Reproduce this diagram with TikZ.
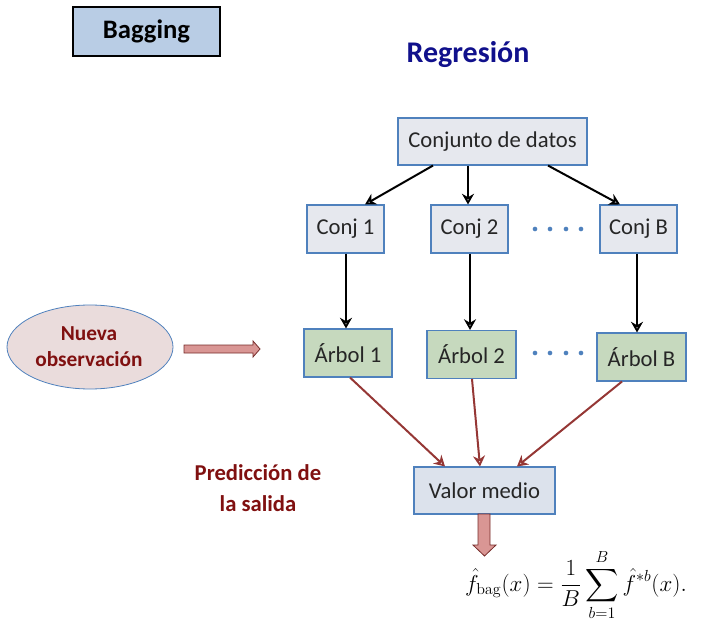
\documentclass[tikz,border=0pt]{standalone}
\usepackage{amsmath}
\usepackage[no-math]{fontspec}
\setmainfont{Carlito}
\usetikzlibrary{arrows.meta,shapes.geometric}
\definecolor{boxblue}{RGB}{79,129,189}
\definecolor{bagfill}{RGB}{185,205,229}
\definecolor{datfill}{RGB}{230,232,238}
\definecolor{treefill}{RGB}{198,217,190}
\definecolor{valfill}{RGB}{220,226,236}
\definecolor{darkred}{RGB}{128,16,16}
\definecolor{navy}{RGB}{16,16,140}
\definecolor{arrred}{RGB}{149,55,53}
\definecolor{blkfill}{RGB}{217,150,148}
\definecolor{ellfill}{RGB}{234,220,220}
\tikzset{
  box/.style={draw=boxblue, line width=0.8pt, fill=datfill, inner sep=0pt,
    font=\fontsize{17}{20}\selectfont, text=black!85},
  tree/.style={box, fill=treefill},
  blk/.style={->, >={Stealth[open, length=8pt, width=9pt]}, line width=1.5pt, black},
  red/.style={->, >={Stealth[open, length=8pt, width=9pt]}, line width=1.5pt, arrred},
  bigarrow/.style={draw=arrred!80!black, line width=0.6pt, fill=blkfill},
  dotsty/.style={circle, fill=boxblue, inner sep=0pt, minimum size=3.5pt}
}
\begin{document}
\begin{tikzpicture}[x=0.75pt, y=-0.75pt]
\useasboundingbox (0,0) rectangle (713,623);
% title boxes
\node[draw=black, line width=0.8pt, fill=bagfill, minimum width=110.25pt, minimum height=36.75pt,
  font=\fontsize{20}{24}\selectfont\bfseries] (bag) at (146.5,31.5) {Bagging};
\node[font=\fontsize{22.5}{27}\selectfont\bfseries, text=navy] (reg) at (468,55) {Regresión};
% data
\node[box, minimum width=141.75pt, minimum height=35.25pt] (dat) at (492.5,141.5) {Conjunto de datos};
\node[box, minimum width=57.75pt, minimum height=36pt] (c1) at (345.5,229) {Conj 1};
\node[box, minimum width=57.75pt, minimum height=36pt] (c2) at (469.5,229) {Conj 2};
\node[box, minimum width=57.75pt, minimum height=36pt] (cb) at (638.5,229) {Conj B};
\node[tree, minimum width=66pt, minimum height=36pt] (a1) at (348,353) {Árbol 1};
\node[tree, minimum width=66.75pt, minimum height=36pt] (a2) at (471.5,354.5) {Árbol 2};
\node[tree, minimum width=66.75pt, minimum height=36pt] (ab) at (641.5,357) {Árbol B};
\node[box, fill=valfill, minimum width=105.75pt, minimum height=35.25pt] (val) at (484.5,490.5) {Valor medio};
% dots
\foreach \i/\x in {1/535,2/550,3/566,4/581}{
  \node[dotsty] (d\i) at (\x,229) {};
  \node[dotsty] (e\i) at (\x,353) {};
}
% black arrows
\draw[blk] (dat.south -| 433,0) -- (c1.north -| 365,0);
\draw[blk] (dat.south -| 468,0) -- (c2.north -| 468,0);
\draw[blk] (dat.south -| 548,0) -- (cb.north -| 620,0);
\draw[blk] (c1.south -| 346,0) -- (a1.north -| 346,0);
\draw[blk] (c2.south -| 470,0) -- (a2.north -| 470,0);
\draw[blk] (cb.south -| 637,0) -- (ab.north -| 637,0);
% red arrows
\draw[red] (a1.south -| 350,0) -- (val.north -| 445,0);
\draw[red] (a2.south -| 472,0) -- (val.north -| 480,0);
\draw[red] (ab.south -| 622,0) -- (val.north -| 517,0);
% ellipse
\node[draw=boxblue, line width=0.6pt, fill=ellfill, ellipse, minimum width=124.5pt, minimum height=63pt] (obs) at (90,347) {};
\node[font=\fontsize{16}{19}\selectfont\bfseries, text=darkred, align=center] (obst) at (89,346.5) {Nueva\\[0pt]observación};
% left block arrow
\draw[bigarrow] (184,345) -- (253,345) -- (253,341) -- (260,349) -- (253,357) -- (253,353) -- (184,353) -- cycle;
% down block arrow
\draw[bigarrow] (478,514) -- (490,514) -- (490,545) -- (496,545) -- (484.5,556) -- (473,545) -- (478,545) -- cycle;
% prediction label
\node[font=\fontsize{17}{23}\selectfont\bfseries, text=darkred, align=center] (pred) at (258,488) {Predicción de\\la salida};
% formula
\node[font=\fontsize{17}{20}\selectfont, inner sep=0pt] (form) at (576,585)
  {$\displaystyle \hat{f}_{\mathrm{bag}}(x)=\frac{1}{B}\sum_{b=1}^{B}\hat{f}^{*b}(x).$};
\end{tikzpicture}
\end{document}
